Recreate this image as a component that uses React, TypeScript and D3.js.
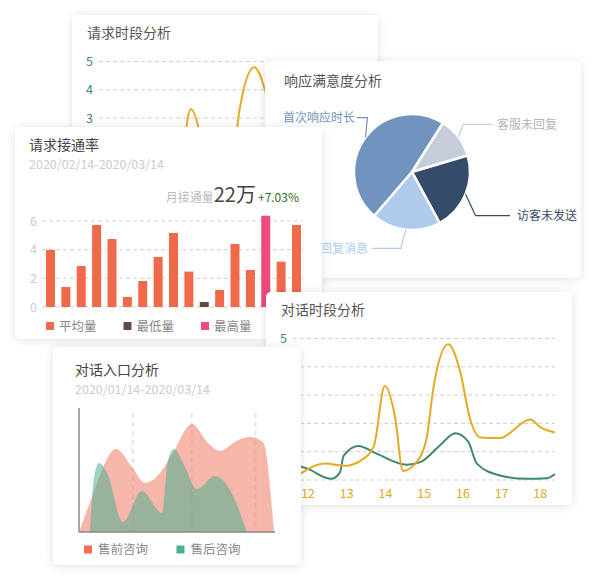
import * as d3 from "d3";
import React from "react";

const FONT = '"Noto Sans CJK SC", "Noto Sans", sans-serif';

// 时段分析 (two cards share this chart)
const hourTicks = [12, 13, 14, 15, 16, 17, 18];
const countTicks = [0, 1, 2, 3, 4, 5];
const yellowHours = [11.61, 12.45, 12.95, 13.4, 13.7, 13.98, 14.25, 14.45, 14.75, 15.05, 15.25, 15.62, 15.93, 16.18, 16.45, 16.95, 17.74, 18.0, 18.38];
const yellowValues = [0.05, 0.58, 0.5, 0.72, 1.2, 3.32, 2.2, 0.32, 0.55, 1.4, 3.36, 4.8, 3.83, 2.18, 1.5, 1.48, 2.14, 1.87, 1.68];
const greenHours = [11.61, 11.95, 12.6, 12.82, 12.92, 13.3, 13.77, 14.55, 14.9, 15.41, 15.8, 16.14, 16.36, 16.96, 17.65, 18.17, 18.38];
const greenValues = [0.55, 0.42, 0.04, 0.26, 0.86, 1.2, 0.93, 0.54, 0.63, 1.23, 1.65, 1.35, 0.58, 0.16, 0.04, 0.06, 0.21];

// 请求接通率
const barDays = ["02/14", "02/16", "02/18", "02/20", "02/22", "02/24", "02/26", "02/28", "03/01", "03/03", "03/05", "03/07", "03/08", "03/09", "03/10", "03/12", "03/14"];
const barValues = [3.98, 1.4, 2.86, 5.72, 4.74, 0.7, 1.81, 3.49, 5.16, 2.47, 0.35, 1.19, 4.4, 2.58, 6.37, 3.16, 5.72];
const barTicks = [0, 2, 4, 6];
const barLegend = ["平均量", "最低量", "最高量"];
const barColors = ["#ee6a4b", "#5e4b48", "#ec4a7b"];

// 响应满意度分析
const pieNames = ["首次响应时长", "客服未回复", "访客未发送", "访客回复消息"];
const pieValues = [477, 114, 217, 192];
const pieColors = ["#7094bd", "#c4cdd9", "#344b6a", "#aecbeb"];
const pieTextColors = ["#7094bd", "#b4b4b4", "#344b6a", "#aecbeb"];

// 对话入口分析
const preSaleX = [0.03, 1.33, 3.78, 5.41, 6.73, 8.27, 9.59, 11.53, 13.16, 14.39, 16.22, 17.45, 18.78, 19.9];
const preSaleY = [0, 3.39, 8.03, 6.29, 4.74, 5.71, 7.65, 10.45, 8.62, 7.84, 8.9, 9.2, 8.71, 0];
const afterSaleX = [1.12, 1.46, 2.04, 2.83, 4.49, 6.4, 8.47, 9.08, 9.69, 10.82, 12.01, 13.88, 15.58, 17.11];
const afterSaleY = [0, 4.74, 6.68, 5.81, 0.97, 3.97, 1.84, 6.97, 8.03, 6.29, 4.16, 5.42, 3.78, 0];
const entryTicks = [5.5, 11.5, 18];
const entryLegend = ["售前咨询", "售后咨询"];
const entryColors = ["#f06e55", "#4caf8e"];

const Card: React.FC<{ x: number; y: number; w: number; h: number; children?: React.ReactNode }> = ({ x, y, w, h, children }) => (
  <g transform={`translate(${x},${y})`}>
    <rect width={w} height={h} rx={5} fill="#fff" filter="url(#cardShadow)" />
    {children}
  </g>
);

// textLimit: texts lower than this (card-relative) sit under another card and are left out
const LineCard: React.FC<{ x: number; y: number; title: string; textLimit?: number }> = ({ x, y, title, textLimit = Infinity }) => {
  const xs = d3.scaleLinear().domain([11.61, 18.38]).range([27, 289]);
  const ys = d3.scaleLinear().domain([0, 5]).range([188, 46.5]);
  const line = d3
    .line<[number, number]>()
    .x((d) => xs(d[0]))
    .y((d) => ys(d[1]))
    .curve(d3.curveMonotoneX);
  const yellow = line(d3.zip(yellowHours, yellowValues) as [number, number][]) || "";
  const green = line(d3.zip(greenHours, greenValues) as [number, number][]) || "";

  return (
    <Card x={x} y={y} w={306} h={213}>
      <text x={15} y={23} fontSize={14} fill="#555">{title}</text>
      {countTicks.map((t) => (
        <g key={t}>
          <line x1={27} x2={289} y1={ys(t)} y2={ys(t)} stroke="#cfcfcf" strokeDasharray="4 3" />
          {ys(t) < textLimit && (
            <text x={21} y={ys(t) + 4.5} textAnchor="end" fontSize={12.5} fill="#3d8a6c">{t}</text>
          )}
        </g>
      ))}
      {206 < textLimit &&
        hourTicks.map((t) => (
          <text key={t} x={xs(t)} y={206} textAnchor="middle" fontSize={12.5} fill="#e3a725">{t}</text>
        ))}
      <path d={green} fill="none" stroke="#3d8a6c" strokeWidth={2} />
      <path d={yellow} fill="none" stroke="#e6aa22" strokeWidth={2} />
    </Card>
  );
};

const BarCard: React.FC<{ x: number; y: number }> = ({ x, y }) => {
  const xb = d3.scaleBand<string>().domain(barDays).range([31, 286]).paddingInner(0.415).paddingOuter(0);
  const yb = d3.scaleLinear().domain([0, 6]).range([180, 94]);
  const maxV = d3.max(barValues) as number;
  const minV = d3.min(barValues) as number;
  const colorOf = (v: number) => (v === maxV ? barColors[2] : v === minV ? barColors[1] : barColors[0]);

  return (
    <Card x={x} y={y} w={307} h={212}>
      <text x={14} y={23} fontSize={14} fill="#444">请求接通率</text>
      <text x={14} y={42} fontSize={12.5} fill="#cccccc">2020/02/14-2020/03/14</text>
      <text x={284} y={75} textAnchor="end">
        <tspan fontSize={12} fill="#bbbbbb">月接通量</tspan>
        <tspan fontSize={20} fill="#444">22万</tspan>
        <tspan fontSize={12} fill="#2f6e14" dx={2}>+7.03%</tspan>
      </text>
      {barTicks.map((t) => (
        <g key={t}>
          <line x1={27} x2={288} y1={yb(t)} y2={yb(t)} stroke="#cfcfcf" strokeDasharray="4 3" />
          <text x={22} y={yb(t) + 4.5} textAnchor="end" fontSize={12.5} fill="#cccccc">{t}</text>
        </g>
      ))}
      {barDays.map((d, i) => (
        <rect
          key={d}
          x={xb(d)}
          y={yb(barValues[i])}
          width={xb.bandwidth()}
          height={yb(0) - yb(barValues[i])}
          fill={colorOf(barValues[i])}
        />
      ))}
      {barLegend.map((name, i) => (
        <g key={name} transform={`translate(${31 + i * 77.5},0)`}>
          <rect x={0} y={195} width={8} height={8} fill={barColors[i]} />
          <text x={13} y={203.5} fontSize={12.5} fill="#888">{name}</text>
        </g>
      ))}
    </Card>
  );
};

// leader-line layout for pie labels (card-relative)
const pieLabelLayout = [
  { ly: 56.7, bend: 2, end: 91.7, tx: 90, anchor: "end" },
  { ly: 63.3, bend: 5, end: 226.7, tx: 232, anchor: "start" },
  { ly: 154.7, bend: 10, end: 245, tx: 252, anchor: "start" },
  { ly: 187.3, bend: -5, end: 106.7, tx: 103, anchor: "end" },
];

const PieCard: React.FC<{ x: number; y: number }> = ({ x, y }) => {
  const cx = 147;
  const cy = 111;
  const r = 58;
  const start = (-139.3 * Math.PI) / 180;
  const pie = d3
    .pie<number>()
    .sort(null)
    .value((d) => d)
    .startAngle(start)
    .endAngle(start + Math.PI * 2);
  const arcs = pie(pieValues);
  const arc = d3.arc<d3.PieArcDatum<number>>().innerRadius(0).outerRadius(r);

  return (
    <Card x={x} y={y} w={316} h={217}>
      <text x={19} y={25} fontSize={14} fill="#555">响应满意度分析</text>
      <g transform={`translate(${cx},${cy})`}>
        {arcs.map((a, i) => (
          <path key={i} d={arc(a) || ""} fill={pieColors[i]} stroke="#fff" strokeWidth={2.5} strokeLinejoin="round" />
        ))}
      </g>
      {arcs.map((a, i) => {
        const mid = (a.startAngle + a.endAngle) / 2;
        const sx = cx + Math.sin(mid) * r;
        const sy = cy - Math.cos(mid) * r;
        const l = pieLabelLayout[i];
        return (
          <g key={i}>
            <polyline
              points={`${sx},${sy} ${sx + l.bend},${l.ly} ${l.end},${l.ly}`}
              fill="none"
              stroke={pieColors[i]}
              strokeWidth={1.2}
            />
            <text x={l.tx} y={l.ly + 4.5} textAnchor={l.anchor as any} fontSize={12} fill={pieTextColors[i]}>
              {pieNames[i]}
            </text>
          </g>
        );
      })}
    </Card>
  );
};

const AreaCard: React.FC<{ x: number; y: number }> = ({ x, y }) => {
  const xs = d3.scaleLinear().domain([0, 20]).range([26, 222]);
  const ys = d3.scaleLinear().domain([0, 12]).range([185, 61]);
  const area = d3
    .area<[number, number]>()
    .x((d) => xs(d[0]))
    .y0(ys(0))
    .y1((d) => ys(d[1]))
    .curve(d3.curveMonotoneX);
  const pre = area(d3.zip(preSaleX, preSaleY) as [number, number][]) || "";
  const after = area(d3.zip(afterSaleX, afterSaleY) as [number, number][]) || "";

  return (
    <Card x={x} y={y} w={248} h={218}>
      <text x={22} y={28} fontSize={14} fill="#444">对话入口分析</text>
      <text x={22} y={47} fontSize={12.5} fill="#cccccc">2020/01/14-2020/03/14</text>
      {entryTicks.map((t) => (
        <line key={t} x1={xs(t)} x2={xs(t)} y1={66} y2={ys(0)} stroke="#e6e6e6" strokeWidth={2} strokeDasharray="5 4" />
      ))}
      <path d={pre} fill={entryColors[0]} fillOpacity={0.5} />
      <path d={after} fill={entryColors[1]} fillOpacity={0.55} />
      <line x1={26} x2={26} y1={61} y2={ys(0)} stroke="#888" strokeWidth={1.5} />
      <line x1={26} x2={222} y1={ys(0)} y2={ys(0)} stroke="#888" strokeWidth={1.5} />
      {entryLegend.map((name, i) => (
        <g key={name} transform={`translate(${31 + i * 92.5},0)`}>
          <rect x={0} y={198.5} width={8} height={8} fill={entryColors[i]} />
          <text x={14} y={207} fontSize={12.5} fill="#888">{name}</text>
        </g>
      ))}
    </Card>
  );
};

export default function App() {
  return (
    <svg
      width={596}
      height={580}
      style={{ position: "absolute", left: 0, top: 0, fontFamily: FONT }}
    >
      <defs>
        <filter id="cardShadow" x="-20%" y="-20%" width="140%" height="140%">
          <feDropShadow dx={0} dy={1} stdDeviation={5} floodColor="#000" floodOpacity={0.12} />
        </filter>
      </defs>
      <rect width={596} height={580} fill="#fff" />
      <LineCard x={72} y={15} title="请求时段分析" textLimit={112} />
      <PieCard x={265} y={61} />
      <BarCard x={15} y={127} />
      <LineCard x={266} y={292} title="对话时段分析" />
      <AreaCard x={53} y={347} />
    </svg>
  );
}
